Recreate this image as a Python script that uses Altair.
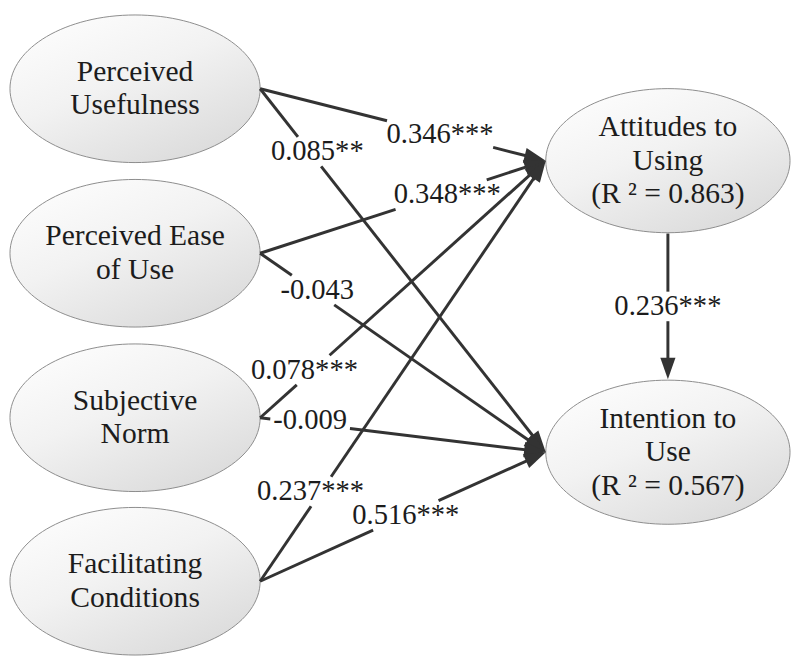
import math
import altair as alt
import pandas as pd

# ---- data ----
left_nodes = ["Perceived\nUsefulness", "Perceived Ease\nof Use", "Subjective\nNorm", "Facilitating\nConditions"]
left_x = [135, 135, 135, 135]
left_y = [85, 252, 419, 585]
right_nodes = ["Attitudes to\nUsing\n(R ² = 0.863)", "Intention to\nUse\n(R ² = 0.567)"]
right_x = [676, 676]
right_y = [158, 454]

edge_src = [0, 0, 1, 1, 2, 2, 3, 3]
edge_dst = [0, 1, 0, 1, 0, 1, 0, 1]
edge_coef = ["0.346***", "0.085**", "0.348***", "-0.043", "0.078***", "-0.009", "0.237***", "0.516***"]
label_t = [0.63, 0.2, 0.655, 0.2, 0.155, 0.175, 0.218, 0.51]
label_dx = [0, 0, 0, 0, 0, 0, -12, 0]
label_dy = [0, -10, 2, -3, -8, -4, 2, 0]

mediator_coef = "0.236***"

# ---- layout ----
left_rx, left_ry = 127, 75
right_rx, right_ry = 124, 74
arrow_half = 11
FS = 29
NFS = 30
LH = 34
ELL = "M-1,0A1,0.59,0,1,0,1,0A1,0.59,0,1,0,-1,0Z"
ARROW = "M0,-1L0.7,1L-0.7,1Z"

all_labels = left_nodes + right_nodes
all_x = left_x + right_x
all_y = left_y + right_y
nodes = pd.DataFrame({
    "label": all_labels,
    "x": all_x,
    "y": all_y,
    "ty": [y - (lab.count("\n")) * LH / 2 for lab, y in zip(all_labels, all_y)],
    "size": [(2 * left_rx) ** 2] * 4 + [(2 * right_rx) ** 2] * 2,
})

CW = {".": 0.25, "*": 0.42, "-": 0.333}


def text_width(s):
    return sum(CW.get(ch, 0.5) for ch in s) * FS


def clip(x1, y1, x2, y2, xmin, xmax, ymin, ymax):
    dx, dy = x2 - x1, y2 - y1
    t0, t1 = 0.0, 1.0
    for p, q in ((-dx, x1 - xmin), (dx, xmax - x1), (-dy, y1 - ymin), (dy, ymax - y1)):
        if p == 0:
            if q < 0:
                return None
            continue
        r = q / p
        if p < 0:
            t0 = max(t0, r)
        else:
            t1 = min(t1, r)
    if t0 > t1:
        return None
    return t0, t1


edges, arrows, labels = [], [], []


def add_edge(x1, y1, x2, y2, text, t, dx, dy):
    L = math.hypot(x2 - x1, y2 - y1)
    ux, uy = (x2 - x1) / L, (y2 - y1) / L
    ex, ey = x2 - ux * arrow_half * 1.2, y2 - uy * arrow_half * 1.2
    ax, ay = x2 - ux * arrow_half, y2 - uy * arrow_half
    lx, ly = x1 + t * (x2 - x1) + dx, y1 + t * (y2 - y1) + dy
    hw, hh = text_width(text) / 2 + 3, 15
    c = clip(x1, y1, ex, ey, lx - hw, lx + hw, ly - hh, ly + hh)
    if c is None:
        edges.append({"x": x1, "y": y1, "x2": ex, "y2": ey})
    else:
        s0, s1 = c
        edges.append({"x": x1, "y": y1, "x2": x1 + s0 * (ex - x1), "y2": y1 + s0 * (ey - y1)})
        edges.append({"x": x1 + s1 * (ex - x1), "y": y1 + s1 * (ey - y1), "x2": ex, "y2": ey})
    arrows.append({"x": ax, "y": ay, "angle": math.degrees(math.atan2(ux, -uy)) % 360})
    labels.append({"x": lx, "y": ly, "text": text})


for s, d, c, t, dx, dy in zip(edge_src, edge_dst, edge_coef, label_t, label_dx, label_dy):
    add_edge(left_x[s] + left_rx, left_y[s], right_x[d] - right_rx, right_y[d], c, t, dx, dy)

add_edge(right_x[0], right_y[0] + right_ry, right_x[1], right_y[1] - right_ry, mediator_coef, 0.5, 0, 0)

edges_df = pd.DataFrame(edges)
arrows_df = pd.DataFrame(arrows)
labels_df = pd.DataFrame(labels)

xs = alt.Scale(domain=[8, 792], nice=False, zero=False)
ys = alt.Scale(domain=[8, 652], nice=False, zero=False, reverse=True)
X = alt.X("x:Q", scale=xs, axis=None)
Y = alt.Y("y:Q", scale=ys, axis=None)

FONT = "Liberation Serif, Times New Roman, serif"
INK = "#1c1c1c"
LINE = "#333333"

grad = alt.Gradient(
    gradient="linear",
    stops=[alt.GradientStop(color="#ffffff", offset=0),
           alt.GradientStop(color="#f2f2f2", offset=0.5),
           alt.GradientStop(color="#dcdcdc", offset=1)],
    x1=0, y1=0, x2=0.7, y2=1,
)

ellipses = alt.Chart(nodes).mark_point(
    shape=ELL, filled=True, fill=grad, stroke="#8c8c8c", strokeWidth=1, opacity=1
).encode(x=X, y=Y, size=alt.Size("size:Q", scale=None))

node_text = alt.Chart(nodes).mark_text(
    font=FONT, fontSize=NFS, lineBreak="\n", lineHeight=LH, color=INK, baseline="middle", align="center"
).encode(x=X, y=alt.Y("ty:Q", scale=ys, axis=None), text="label:N")

edge_lines = alt.Chart(edges_df).mark_rule(color=LINE, strokeWidth=3).encode(
    x=X, y=Y, x2="x2:Q", y2="y2:Q"
)

heads = alt.Chart(arrows_df).mark_point(
    shape=ARROW, filled=True, fill=LINE, color=LINE, opacity=1, size=(2 * arrow_half) ** 2, strokeWidth=0
).encode(x=X, y=Y, angle=alt.Angle("angle:Q", scale=None))

coef_text = alt.Chart(labels_df).mark_text(
    font=FONT, fontSize=FS, color=INK, baseline="middle", align="center"
).encode(x=X, y=Y, text="text:N")

chart = alt.layer(ellipses, edge_lines, heads, coef_text, node_text).properties(
    width=784, height=644, padding=0, background="white"
).configure_view(stroke=None)

chart.save("out.html", embed_options={"renderer": "svg", "actions": False})
